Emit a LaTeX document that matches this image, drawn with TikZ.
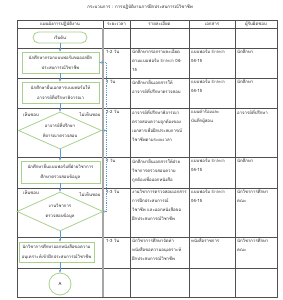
\documentclass[tikz,border=0pt]{standalone}
\usepackage{fontspec}
\newfontfamily\thai[Script=Thai]{Loma}
\usetikzlibrary{arrows.meta,shapes.geometric}
\definecolor{boxgreen}{HTML}{A9D18E}
\definecolor{arrblue}{HTML}{5B9BD5}
\definecolor{tline}{HTML}{505050}
\definecolor{txtc}{HTML}{262626}
\tikzset{
  txt/.style={font=\thai\fontsize{4.3}{9}\selectfont, text=txtc, inner sep=0pt, anchor=north west, align=left},
  ctext/.style={font=\thai\fontsize{4.3}{10.5}\selectfont, text=txtc, inner sep=0pt, align=center},
  hdr/.style={font=\thai\fontsize{4.4}{9}\selectfont, text=txtc, inner sep=0pt},
  pbox/.style={draw=boxgreen, line width=0.8pt, rectangle, inner sep=0pt},
  dbox/.style={draw=boxgreen, line width=0.8pt, diamond, inner sep=0pt},
  arr/.style={draw=arrblue, line width=0.5pt, -{Stealth[length=2.6pt,width=2.2pt]}},
  fb/.style={draw=arrblue, line width=0.45pt, dash pattern=on 1pt off 0.8pt},
  grid/.style={draw=tline, line width=0.5pt}
}
\begin{document}
\begin{tikzpicture}[x=1pt,y=-1pt]
\useasboundingbox (0,0) rectangle (282,300);
\fill[white] (0,0) rectangle (282,300);
% title
\node[hdr] (title) at (140,7.5) {กระบวนการ : การปฏิบัติงานการฝึกประสบการณ์วิชาชีพ};
% table
\draw[grid] (17,20) rectangle (277,297);
\foreach \y in {28,48,78,108,157,188,237,268} \draw[grid] (17,\y) -- (277,\y);
\foreach \x in {130,189,235} \draw[grid] (\x,20) -- (\x,297);
\draw[grid] (103,20) -- (103,28);
\draw[draw=black!35, line width=1.3pt] (103,28) -- (103,297);
% header
\node[hdr] (h1) at (60,24) {แผนผังการปฏิบัติงาน};
\node[hdr] (h2) at (116.5,24) {ระยะเวลา};
\node[hdr] (h3) at (159.5,24) {รายละเอียด};
\node[hdr] (h4) at (212,24) {เอกสาร};
\node[hdr] (h5) at (256,24) {ผู้รับผิดชอบ};
% flowchart
\node[pbox, rounded corners=5.5pt, minimum width=54pt, minimum height=11pt, ctext] (start) at (60,37.5) {เริ่มต้น};
\node[pbox, minimum width=77pt, minimum height=21pt, ctext] (b2) at (60.5,62.5) {นักศึกษากรอกแบบฟอร์มขอออกฝึก\\ประสบการณ์วิชาชีพ};
\node[pbox, minimum width=77pt, minimum height=21pt, ctext] (b3) at (60.5,92.5) {นักศึกษายื่นเอกสารแบบฟอร์มให้\\อาจารย์ที่ปรึกษาพิจารณา};
\node[dbox, minimum width=83pt, minimum height=37pt] (d1) at (60,130.5) {};
\node[ctext] (d1t) at (d1.center) {อาจารย์ที่ปรึกษา\\พิจารณาตรวจสอบ};
\node[pbox, minimum width=79pt, minimum height=22pt, ctext] (b5) at (60.5,172) {นักศึกษายื่นแบบฟอร์มที่ฝ่ายวิชาการ\\ศึกษาตรวจสอบข้อมูล};
\node[dbox, minimum width=86pt, minimum height=39pt] (d2) at (60,211.5) {};
\node[ctext] (d2t) at (d2.center) {งานวิชาการ\\ตรวจสอบข้อมูล};
\node[pbox, minimum width=75pt, minimum height=20pt, ctext] (b7) at (56.5,252) {นักวิชาการศึกษาออกหนังสือขอความ\\อนุเคราะห์เข้าฝึกประสบการณ์วิชาชีพ};
\node[pbox, circle, minimum size=22pt, ctext] (ca) at (60,284) {A};
% yes / no labels
\node[hdr] (y1) at (31,114) {เห็นชอบ};
\node[hdr] (n1) at (90,114.5) {ไม่เห็นชอบ};
\node[hdr] (y2) at (31,192) {เห็นชอบ};
\node[hdr] (n2) at (90,194) {ไม่เห็นชอบ};
% arrows
\draw[arr] (start.south) -- (start.south |- b2.north);
\draw[arr] (b2.south -| start.south) -- (start.south |- b3.north);
\draw[arr] (b3.south -| start.south) -- (d1.north);
\draw[arr] (d1.south) -- (d1.south |- b5.north);
\draw[arr] (b5.south -| d2.north) -- (d2.north);
\draw[arr] (d2.south) -- (d2.south |- b7.north);
\draw[arr] (b7.south -| ca.north) -- (ca.north);
% feedback
\coordinate (fx) at (106.5,0);
\draw[fb, -{Stealth[length=2.4pt,width=2pt]}] (d1.east) -- (d1.east -| fx);
\draw[fb, -{Stealth[length=2.4pt,width=2pt]}] (d2.east) -- (d2.east -| fx);
\draw[fb, -{Stealth[length=2.6pt,width=2.2pt]}] (d2.east -| fx) -- (b2.east -| fx) -- (b2.east);
% durations
\node[txt] (t2) at (106,50) {1-2 วัน};
\node[txt] (t3) at (106,80) {1 วัน};
\node[txt] (t4) at (106,110) {1-2 วัน};
\node[txt] (t5) at (106,159) {1 วัน};
\node[txt] (t6) at (106,190) {1-3 วัน};
\node[txt] (t7) at (106,239) {1-3 วัน};
% details
\node[txt] (r2) at (132,50) {นักศึกษากรอกรายละเอียด\\ตามแบบฟอร์ม {\color{black!60}Entech} 04-\\15};
\node[txt] (r3) at (132,80) {นักศึกษายื่นเอกสารให้\\อาจารย์ที่ปรึกษาตรวจสอบ};
\node[txt] (r4) at (132,110) {อาจารย์ที่ปรึกษาพิจารณา\\ตรวจสอบความถูกต้องของ\\เอกสารเพื่อฝึกประสบการณ์\\วิชาชีพตามระยะเวลา};
\node[txt] (r5) at (132,159) {นักศึกษายื่นเอกสารให้ฝ่าย\\วิชาการตรวจสอบความ\\ถูกต้องเพื่อออกหนังสือ};
\node[txt] (r6) at (132,190) {งานวิชาการตรวจสอบเอกสาร\\การฝึกประสบการณ์\\วิชาชีพ และออกหนังสือขอ\\ฝึกประสบการณ์วิชาชีพ};
\node[txt] (r7) at (132,239) {นักวิชาการศึกษาจัดทำ\\หนังสือขอความอนุเคราะห์\\ฝึกประสบการณ์วิชาชีพ};
% documents
\node[txt] (e2) at (191,50) {แบบฟอร์ม {\color{black!60}Entech}\\04-15};
\node[txt] (e3) at (191,80) {แบบฟอร์ม {\color{black!60}Entech}\\04-15};
\node[txt] (e4) at (191,110) {แบบคำร้องและ\\บันทึกผู้สอน};
\node[txt] (e5) at (191,159) {แบบฟอร์ม {\color{black!60}Entech}\\04-15};
\node[txt] (e6) at (191,190) {แบบฟอร์ม {\color{black!60}Entech}\\04-15};
\node[txt] (e7) at (191,239) {หนังสือราชการ};
% responsible
\node[txt] (p2) at (237,50) {นักศึกษา};
\node[txt] (p3) at (237,80) {นักศึกษา};
\node[txt] (p4) at (237,110) {อาจารย์ที่ปรึกษา};
\node[txt] (p5) at (237,159) {นักศึกษา};
\node[txt] (p6) at (237,190) {นักวิชาการศึกษา\\คณะ};
\node[txt] (p7) at (237,239) {นักวิชาการศึกษา\\คณะ};
\end{tikzpicture}
\end{document}
